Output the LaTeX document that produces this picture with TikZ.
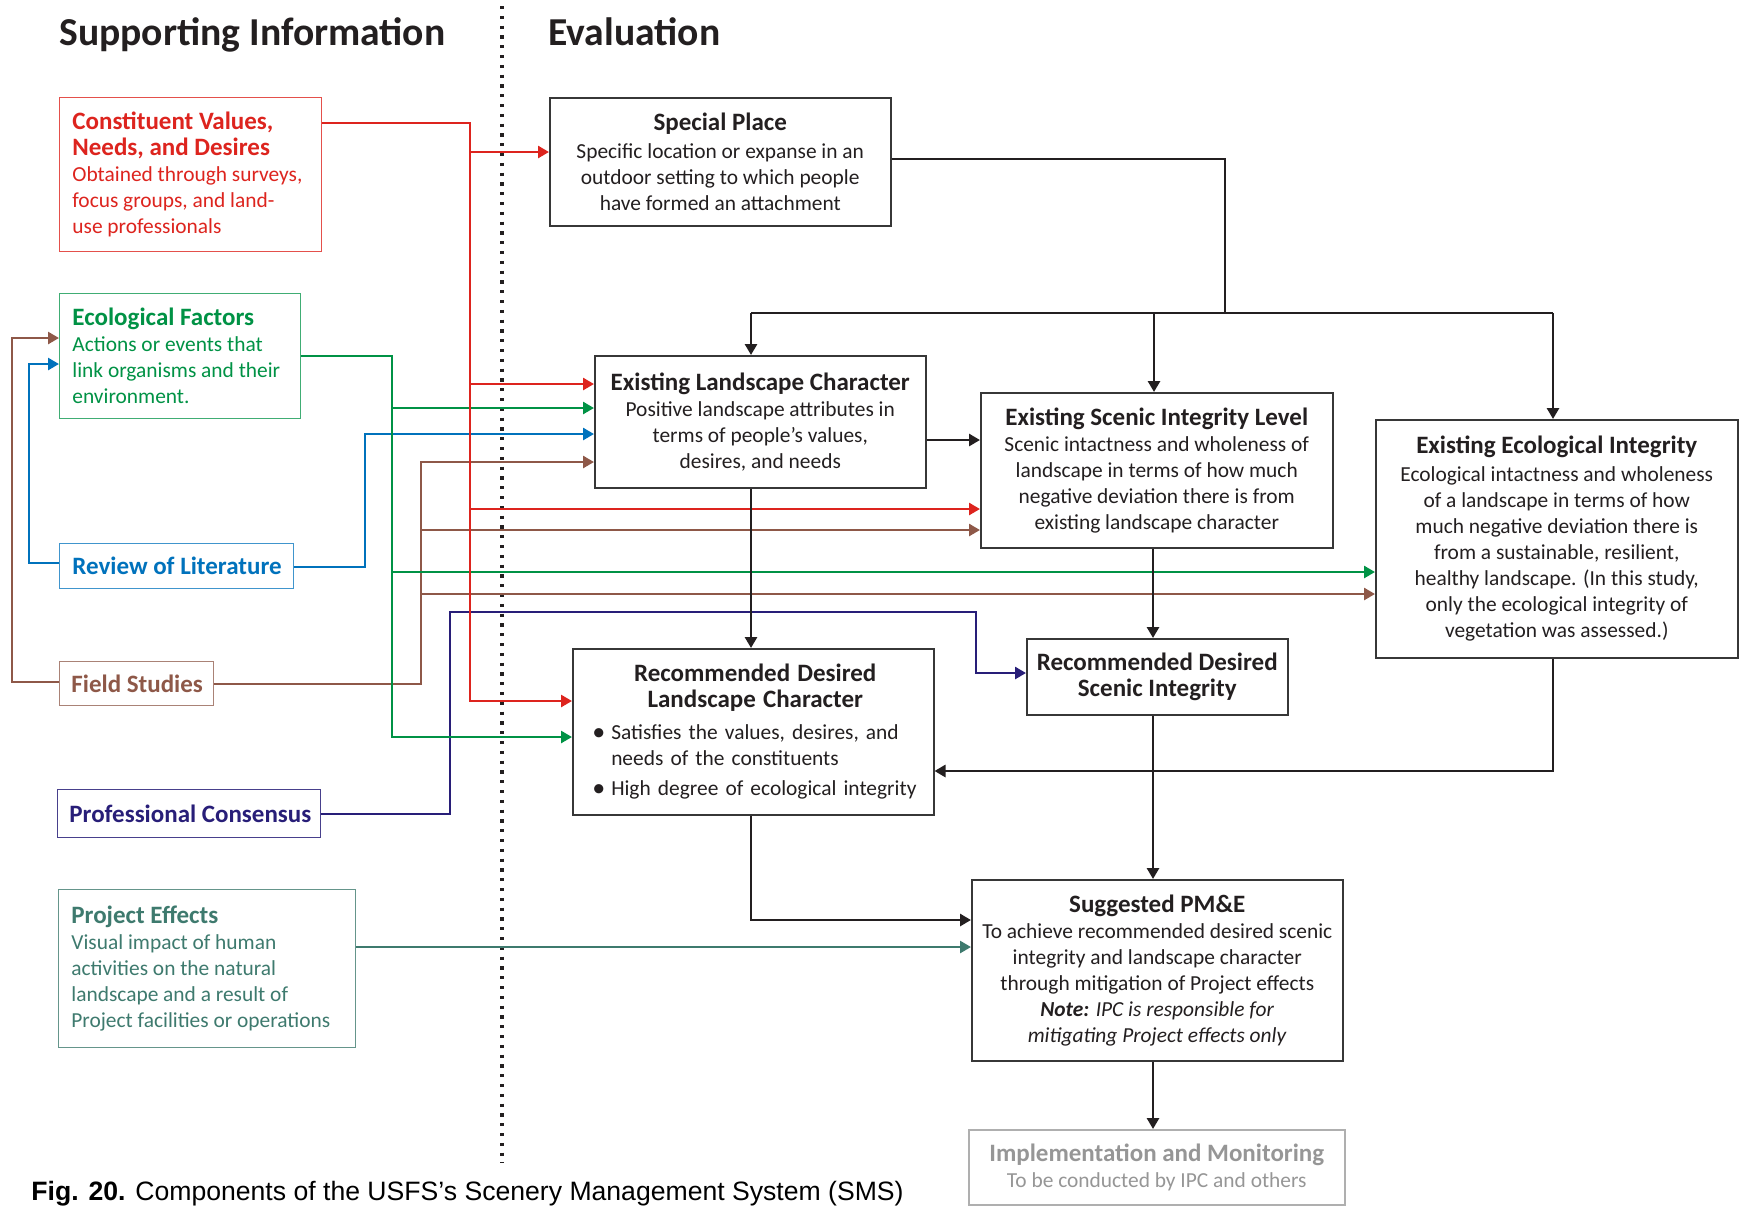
\documentclass[tikz,border=0pt]{standalone}
\usepackage{fontspec}
\setmainfont{Carlito}
\newfontfamily\capfont{Liberation Sans}
\usetikzlibrary{arrows.meta}
\definecolor{cred}{RGB}{221,36,30}
\definecolor{cgreen}{RGB}{0,146,69}
\definecolor{cblue}{RGB}{0,114,188}
\definecolor{cbrown}{RGB}{142,88,72}
\definecolor{cnavy}{RGB}{40,30,120}
\definecolor{cteal}{RGB}{62,122,110}
\definecolor{ink}{RGB}{35,31,32}
\definecolor{boxc}{RGB}{55,55,55}
\definecolor{imtext}{RGB}{150,150,150}
\definecolor{imbord}{RGB}{175,175,175}
\newcommand\bodyfont{\fontsize{10.7}{13}\selectfont}
\newcommand\ttl{\fontsize{12.5}{13}\selectfont\bfseries}
\newcommand\sectfont{\fontsize{19.8}{22}\selectfont\bfseries}
\newcommand\bul{\hspace*{-4pt}\makebox[9.5pt][l]{\raisebox{-0.2pt}{\fontsize{13}{0}\selectfont•}}}
\begin{document}
\begin{tikzpicture}[x=0.5pt,y=-0.5pt,
  conn/.style={line width=1.3pt},
  tip/.style={-{Triangle[length=5.5pt,width=6pt]}},
  cbox/.style={draw, line width=0.7pt, anchor=north west, inner sep=0pt},
  ctext/.style={anchor=west, align=left, inner sep=0pt, font=\bodyfont},
  ebox/.style={draw=boxc, line width=0.75pt, anchor=north west, align=center, inner sep=0pt, font=\bodyfont, text=ink},
  head/.style={anchor=base west, inner sep=0pt, font=\sectfont, text=ink},
  dotl/.style={line width=1.6pt, dash pattern=on 1.6pt off 3.3pt, draw=ink}]
\fill[white] (0,0) rectangle (1739,1206);
\useasboundingbox (0,0) rectangle (1739,1206);

% headings
\node[head] (hsup) at (59,45) {Supporting Information};
\node[head] (heval) at (548,45) {Evaluation};
\coordinate (d1) at (502,6);
\coordinate (d2) at (502,1163);
\draw[dotl] (d1) -- (d2);

% supporting boxes
\node[cbox, draw=cred!80, minimum width=131pt, minimum height=77pt] (cv) at (59,97) {};
\node[ctext, text=cred] (cvt) at ([xshift=6.5pt]cv.west) {{\ttl Constituent Values,}\\{\ttl Needs, and Desires}\\Obtained through surveys,\\focus groups, and land-\\use professionals};

\node[cbox, draw=cgreen!75, minimum width=120.5pt, minimum height=62.5pt] (eco) at (59,293) {};
\node[ctext, text=cgreen] (ecot) at ([xshift=6.5pt]eco.west) {{\ttl Ecological Factors}\\Actions or events that\\link organisms and their\\environment.};

\node[cbox, draw=cblue!75, minimum width=117pt, minimum height=22.5pt] (rev) at (59,543) {};
\node[ctext, text=cblue] (revt) at ([xshift=6.5pt]rev.west) {{\ttl Review of Literature}};

\node[cbox, draw=cbrown!75, minimum width=77pt, minimum height=22pt] (field) at (59,661) {};
\node[ctext, text=cbrown] (fieldt) at ([xshift=6pt]field.west) {{\ttl Field Studies}};

\node[cbox, draw=cnavy!85, minimum width=131.5pt, minimum height=24pt] (prof) at (57,789) {};
\node[ctext, text=cnavy] (proft) at ([xshift=6pt]prof.west) {{\ttl Professional Consensus}};

\node[cbox, draw=cteal!80, minimum width=148.5pt, minimum height=79pt] (proj) at (58,889) {};
\node[ctext, text=cteal] (projt) at ([xshift=6.5pt]proj.west) {{\ttl Project Effects}\\Visual impact of human\\activities on the natural\\landscape and a result of\\Project facilities or operations};

% evaluation boxes
\node[ebox, minimum width=170.5pt, minimum height=64pt] (sp) at (549,97)
  {{\ttl Special Place}\\[1pt]Specific location or expanse in an\\outdoor setting to which people\\have formed an attachment};
\node[ebox, minimum width=165.5pt, minimum height=66pt] (elc) at (594,355)
  {{\ttl Existing Landscape Character}\\Positive landscape attributes in\\terms of people’s values,\\desires, and needs};
\node[ebox, minimum width=176pt, minimum height=77.5pt] (esil) at (980,392)
  {{\ttl Existing Scenic Integrity Level}\\Scenic intactness and wholeness of\\landscape in terms of how much\\negative deviation there is from\\existing landscape character};
\node[ebox, minimum width=181pt, minimum height=119pt] (eei) at (1375,419)
  {{\ttl Existing Ecological Integrity}\\[1pt]Ecological intactness and wholeness\\of a landscape in terms of how\\much negative deviation there is\\from a sustainable, resilient,\\healthy landscape. (In this study,\\only the ecological integrity of\\vegetation was assessed.)};
\node[ebox, minimum width=180.5pt, minimum height=83pt] (rdlc) at (572,648) {};
\node[anchor=center, inner sep=0pt, text width=155pt, font=\bodyfont, text=ink] (rdlct) at ([xshift=1pt]rdlc.center)
  {\centering{\ttl Recommended Desired}\\{\ttl Landscape Character}\par
   \vspace{3pt}\raggedright
   \bul\mbox{Satisfies the values, desires, and}\\\hspace*{5.5pt}\mbox{needs of the constituents}\par
   \vspace{2pt}
   \bul\mbox{High degree of ecological integrity}\par};
\node[ebox, minimum width=130.5pt, minimum height=38pt] (rdsi) at (1026,638)
  {{\ttl Recommended Desired}\\{\ttl Scenic Integrity}};
\node[ebox, minimum width=185.5pt, minimum height=90.5pt] (pme) at (971,879)
  {{\ttl Suggested PM\&E}\\To achieve recommended desired scenic\\integrity and landscape character\\through mitigation of Project effects\\\textit{\textbf{Note:} IPC is responsible for}\\\textit{mitigating Project effects only}};
\node[ebox, draw=imbord, text=imtext, minimum width=188pt, minimum height=37.5pt] (im) at (968,1129)
  {{\ttl Implementation and Monitoring}\\To be conducted by IPC and others};

% caption
\node[anchor=base west, inner sep=0pt, font=\capfont\fontsize{13.3}{15}\selectfont, text=black] (cap) at (31,1200)
  {\textbf{Fig. 20.} Components of the USFS’s Scenery Management System (SMS)};

% ---- connectors ----
% brown
\coordinate (n1) at (421,684); \coordinate (n2) at (421,462);
\coordinate (n3) at (421,530); \coordinate (n4) at (421,594);
\coordinate (n5) at (12,682); \coordinate (n6) at (12,338);
\draw[conn, draw=cbrown, tip] (field.east |- n1) -- (n1) -- (n2) -- (elc.west |- n2);
\draw[conn, draw=cbrown, tip] (n3) -- (esil.west |- n3);
\draw[conn, draw=cbrown, tip] (n4) -- (eei.west |- n4);
\draw[conn, draw=cbrown, tip] (field.west |- n5) -- (n5) -- (n6) -- (eco.west |- n6);
% blue
\coordinate (b1) at (365,567); \coordinate (b2) at (365,434);
\coordinate (b3) at (29,563); \coordinate (b4) at (29,364);
\draw[conn, draw=cblue, tip] (rev.east |- b1) -- (b1) -- (b2) -- (elc.west |- b2);
\draw[conn, draw=cblue, tip] (rev.west |- b3) -- (b3) -- (b4) -- (eco.west |- b4);
% navy
\coordinate (v1) at (450,814); \coordinate (v2) at (450,612);
\coordinate (v3) at (976,612); \coordinate (v4) at (976,673);
\draw[conn, draw=cnavy, tip] (prof.east |- v1) -- (v1) -- (v2) -- (v3) -- (v4) -- (rdsi.west |- v4);
% green
\coordinate (g1) at (392,356); \coordinate (g2) at (392,737);
\coordinate (g3) at (392,408); \coordinate (g4) at (392,572);
\draw[conn, draw=cgreen, tip] (eco.east |- g1) -- (g1) -- (g2) -- (rdlc.west |- g2);
\draw[conn, draw=cgreen, tip] (g3) -- (elc.west |- g3);
\draw[conn, draw=cgreen, tip] (g4) -- (eei.west |- g4);
% red
\coordinate (r1) at (470,123); \coordinate (r2) at (470,701);
\coordinate (r3) at (470,152); \coordinate (r4) at (470,384);
\coordinate (r5) at (470,509);
\draw[conn, draw=cred, tip] (cv.east |- r1) -- (r1) -- (r2) -- (rdlc.west |- r2);
\draw[conn, draw=cred, tip] (r3) -- (sp.west |- r3);
\draw[conn, draw=cred, tip] (r4) -- (elc.west |- r4);
\draw[conn, draw=cred, tip] (r5) -- (esil.west |- r5);
% teal
\coordinate (t1) at (600,947);
\draw[conn, draw=cteal, tip] (proj.east |- t1) -- (pme.west |- t1);
% black
\coordinate (k1) at (1225,159); \coordinate (k2) at (1225,313);
\coordinate (k3) at (751,313); \coordinate (k4) at (1553,313);
\coordinate (k5) at (1154,313);
\draw[conn, draw=ink, line width=1.4pt] (sp.east |- k1) -- (k1) -- (k2);
\draw[conn, draw=ink, line width=1.4pt] (k3) -- (k4);
\draw[conn, draw=ink, line width=1.4pt, tip] (k3) -- (k3 |- elc.north);
\draw[conn, draw=ink, line width=1.4pt, tip] (k5) -- (k5 |- esil.north);
\draw[conn, draw=ink, line width=1.4pt, tip] (k4) -- (k4 |- eei.north);
\coordinate (k6) at (950,440);
\draw[conn, draw=ink, line width=1.4pt, tip] (elc.east |- k6) -- (esil.west |- k6);
\coordinate (k7) at (751,500);
\draw[conn, draw=ink, line width=1.4pt, tip] (k7 |- elc.south) -- (k7 |- rdlc.north);
\coordinate (k8) at (1153,600);
\draw[conn, draw=ink, line width=1.4pt, tip] (k8 |- esil.south) -- (k8 |- rdsi.north);
\coordinate (k9) at (1553,771);
\draw[conn, draw=ink, line width=1.4pt, tip] (k9 |- eei.south) -- (k9) -- (rdlc.east |- k9);
\draw[conn, draw=ink, line width=1.4pt, tip] (k8 |- rdsi.south) -- (k8 |- pme.north);
\coordinate (k10) at (751,920);
\draw[conn, draw=ink, line width=1.4pt, tip] (k10 |- rdlc.south) -- (k10) -- (pme.west |- k10);
\draw[conn, draw=ink, line width=1.4pt, tip] (k8 |- pme.south) -- (k8 |- im.north);
\end{tikzpicture}
\end{document}
